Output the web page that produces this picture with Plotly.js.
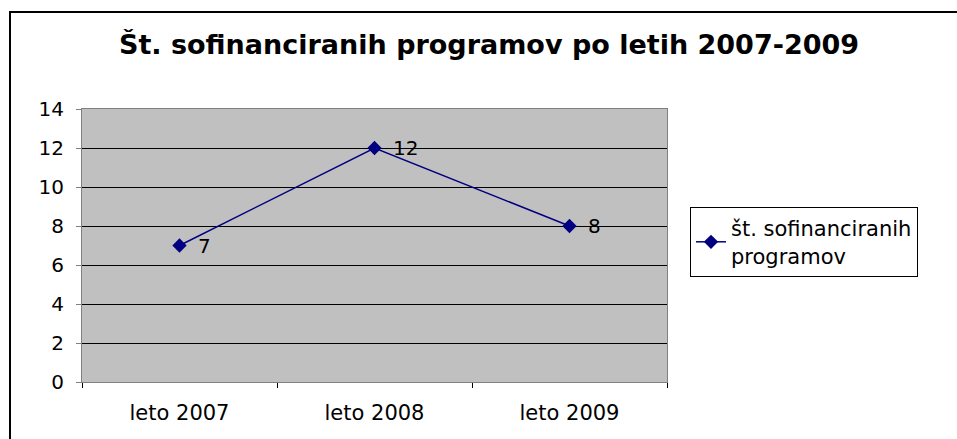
<!DOCTYPE html>
<html>
<head>
<meta charset="utf-8">
<script src="https://cdn.plot.ly/plotly-3.0.1.min.js"></script>
<style>
html,body{margin:0;padding:0;background:#fff;overflow:hidden;}
#frame{position:absolute;left:9px;top:11px;width:1000px;height:500px;border:2px solid #000;box-sizing:border-box;pointer-events:none;z-index:5;}
#chart{position:absolute;left:0;top:0;width:957px;height:439px;}
</style>
</head>
<body>
<div id="chart"></div>
<div id="frame"></div>
<script>
const categories = ["leto 2007", "leto 2008", "leto 2009"];
const values = [7, 12, 8];
const seriesName = "št. sofinanciranih<br>programov";
const yTicks = [0, 2, 4, 6, 8, 10, 12, 14];
const titleText = "<b>Št. sofinanciranih programov po letih 2007-2009</b>";

const fontFam = "DejaVu Sans, Arial, sans-serif";

const trace = {
  type: "scatter",
  mode: "lines+markers",
  x: categories,
  y: values,
  name: seriesName,
  line: {color: "#000080", width: 1.5},
  marker: {symbol: "diamond", size: 11, color: "#000080"},
  cliponaxis: false
};

const labelAnnotations = categories.map((c, i) => ({
  x: c, y: values[i], xref: "x", yref: "y",
  text: String(values[i]),
  showarrow: false,
  xanchor: "left", yanchor: "middle",
  xshift: 16, yshift: 0,
  font: {family: fontFam, size: 20, color: "#000"}
}));

const layout = {
  width: 957,
  height: 439,
  margin: {l: 82, r: 290, t: 109, b: 57, autoexpand: false},
  paper_bgcolor: "#ffffff",
  plot_bgcolor: "#C0C0C0",
  font: {family: fontFam, size: 20, color: "#000"},
  title: {
    text: titleText,
    font: {family: fontFam, size: 27, color: "#000"},
    x: 489/957, xref: "container", xanchor: "center",
    y: 1 - 45/439, yref: "container", yanchor: "middle"
  },
  xaxis: {
    type: "category",
    range: [-0.5, 2.5],
    tickson: "boundaries",
    ticks: "outside",
    ticklen: 5,
    tickcolor: "#000",
    showgrid: false,
    showline: true,
    linecolor: "#808080",
    linewidth: 1,
    mirror: true,
    ticklabelstandoff: 12,
    tickfont: {family: fontFam, size: 21, color: "#000"},
    fixedrange: true
  },
  yaxis: {
    range: [0, 14],
    tickvals: yTicks,
    ticktext: yTicks.map(String),
    ticks: "outside",
    ticklen: 5,
    tickcolor: "#808080",
    showgrid: true,
    gridcolor: "#000",
    gridwidth: 1,
    zeroline: true,
    zerolinecolor: "#000",
    zerolinewidth: 1,
    showline: true,
    linecolor: "#808080",
    linewidth: 1,
    mirror: true,
    ticklabelstandoff: 8,
    tickfont: {family: fontFam, size: 20, color: "#000"},
    fixedrange: true
  },
  annotations: labelAnnotations,
  showlegend: true,
  legend: {
    x: (690 - 82) / 585,
    xanchor: "left",
    y: (382 - 242) / 273,
    yanchor: "middle",
    bordercolor: "#000",
    borderwidth: 1,
    bgcolor: "#fff",
    font: {family: fontFam, size: 21, color: "#000"},
    itemwidth: 30,
    entrywidth: 280,
    entrywidthmode: "pixels"
  }
};

Plotly.newPlot("chart", [trace], layout, {displayModeBar: false, staticPlot: true});
</script>
</body>
</html>
